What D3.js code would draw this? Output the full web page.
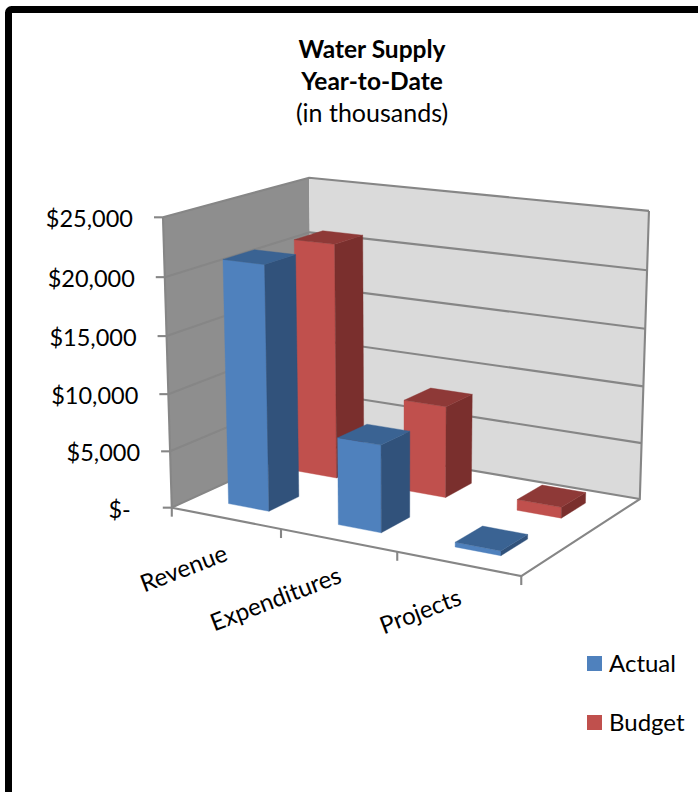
<!DOCTYPE html>
<html>
<head>
<meta charset="utf-8">
<script src="https://cdn.jsdelivr.net/npm/d3@7/dist/d3.min.js"></script>
<style>
html,body{margin:0;padding:0;background:#fff;overflow:hidden}
svg{display:block}
text{font-family:Lato,"Noto Sans",sans-serif;fill:#000}
</style>
</head>
<body>
<svg id="chart" width="698" height="792"></svg>
<script>
// Chart values
const categories = ["Revenue", "Expenditures", "Projects"];
const seriesNames = ["Actual", "Budget"];
const actualValues = [21250, 7500, 400];
const budgetValues = [21050, 8100, 950];
const valueTicks = [0, 5000, 10000, 15000, 20000, 25000];
const titleLines = ["Water Supply", "Year-to-Date", "(in thousands)"];

// Face colours for each series: front, top, side
const seriesColors = {
  Actual: {front: "#4f81bd", top: "#3a6393", side: "#31527b"},
  Budget: {front: "#c0504d", top: "#8e3937", side: "#7a2f2d"}
};

// Camera calibration: box corners (x along categories, z into depth, y up) and where they land
const cameraFit = [
  [0,0,0, 172,508], [1,0,0, 521,576], [1,1,0, 640,499], [0,1,0, 312,443],
  [0,0,1, 163,217], [0,1,1, 309,178], [1,1,1, 649,211]
];

// Least-squares solve of the 3x4 projective camera with m[11] fixed to 1
function solveCamera(pairs) {
  const rows = [], rhs = [];
  pairs.forEach(([X, Z, Y, u, v]) => {
    rows.push([X, Y, Z, 1, 0, 0, 0, 0, -u * X, -u * Y, -u * Z]); rhs.push(u);
    rows.push([0, 0, 0, 0, X, Y, Z, 1, -v * X, -v * Y, -v * Z]); rhs.push(v);
  });
  const n = 11;
  const A = d3.range(n).map(i => d3.range(n + 1).map(j =>
    j < n ? d3.sum(rows, (r) => r[i] * r[j]) : d3.sum(rows, (r, k) => r[i] * rhs[k])));
  for (let c = 0; c < n; c++) {
    let p = c;
    for (let r = c + 1; r < n; r++) if (Math.abs(A[r][c]) > Math.abs(A[p][c])) p = r;
    [A[c], A[p]] = [A[p], A[c]];
    for (let r = 0; r < n; r++) {
      if (r === c) continue;
      const f = A[r][c] / A[c][c];
      for (let k = c; k <= n; k++) A[r][k] -= f * A[c][k];
    }
  }
  return d3.range(n).map(i => A[i][n] / A[i][i]);
}
const cam = solveCamera(cameraFit);
function project(x, y, z) {
  const w = cam[8] * x + cam[9] * y + cam[10] * z + 1;
  return [(cam[0] * x + cam[1] * y + cam[2] * z + cam[3]) / w,
          (cam[4] * x + cam[5] * y + cam[6] * z + cam[7]) / w];
}

// Scales from data to unit box coordinates
const xBand = d3.scaleBand().domain(categories).range([0, 1]).paddingInner(0.625).paddingOuter(0.32);
const zBand = d3.scaleBand().domain(seriesNames).range([0, 1]).paddingInner(0.57).paddingOuter(0.31);
const yValue = d3.scaleLinear().domain([0, 25000]).range([0, 1]);
const xEdge = d3.scaleLinear().domain([0, categories.length]).range([0, 1]);

const svg = d3.select("#chart");
const polyLine = d3.line();

// Outer frame, running past the right and bottom of the page
svg.append("rect").attr("x", 8.5).attr("y", 9.5).attr("width", 760).attr("height", 860)
  .attr("rx", 3).attr("fill", "#fff").attr("stroke", "#000").attr("stroke-width", 7);

// Title
const titleSizes = [{w: 700, s: 24.5, y: 58}, {w: 700, s: 24.5, y: 90}, {w: 400, s: 25, y: 122}];
svg.append("g").selectAll("text").data(titleLines).join("text")
  .attr("x", 372).attr("y", (d, i) => titleSizes[i].y)
  .attr("text-anchor", "middle")
  .attr("font-weight", (d, i) => titleSizes[i].w)
  .attr("font-size", (d, i) => titleSizes[i].s)
  .text(d => d);

const gridColor = "#868686";
const walls = svg.append("g");

// Floor, side wall and back wall
walls.append("path").attr("fill", "#fff")
  .attr("d", polyLine([project(0,0,0), project(1,0,0), project(1,0,1), project(0,0,1)]) + "Z");
walls.append("path").attr("fill", "#8e8e8e")
  .attr("d", polyLine([project(0,0,0), project(0,1,0), project(0,1,1), project(0,0,1)]) + "Z");
walls.append("path").attr("fill", "#dadada")
  .attr("d", polyLine([project(0,0,1), project(0,1,1), project(1,1,1), project(1,0,1)]) + "Z");

// Gridlines wrapping the side and back walls, with value ticks and labels
const gridG = svg.append("g").attr("fill", "none").attr("stroke", gridColor).attr("stroke-width", 2.1);
valueTicks.forEach(v => {
  const y = yValue(v);
  gridG.append("path").attr("d", polyLine([project(0,y,0), project(0,y,1), project(1,y,1)]));
  const p = project(0, y, 0);
  gridG.append("path").attr("d", polyLine([[p[0] - 9, p[1]], p]));
});
gridG.append("path").attr("d", polyLine([project(0,0,0), project(0,1,0)]));
gridG.append("path").attr("d", polyLine([project(1,1,1), project(1,0,1), project(1,0,0), project(0,0,0)]));

// Category boundary ticks along the front of the floor
d3.range(categories.length + 1).forEach(i => {
  const p = project(xEdge(i), 0, 0);
  gridG.append("path").attr("d", polyLine([p, [p[0], p[1] + 9]]));
});

const valueFormat = d3.format("$,");
svg.append("g").selectAll("text").data(valueTicks).join("text")
  .attr("x", d => project(0, yValue(d), 0)[0] - (d === 0 ? 41 : 30))
  .attr("y", d => project(0, yValue(d), 0)[1] + 10)
  .attr("text-anchor", "end")
  .attr("font-size", 23.5)
  .text(d => d === 0 ? "$-" : valueFormat(d));

// Category labels, slanted along the floor edge
const labelAnchors = [[229, 560], [343, 582], [463, 604]];
svg.append("g").selectAll("text").data(categories).join("text")
  .attr("text-anchor", "end")
  .attr("font-size", 24)
  .attr("transform", (d, i) => `translate(${labelAnchors[i][0]},${labelAnchors[i][1]}) rotate(-21)`)
  .text(d => d);

// Columns, back row first so nearer ones paint over them
const barRows = [
  {series: "Budget", values: budgetValues},
  {series: "Actual", values: actualValues}
];
const barG = svg.append("g");
barRows.forEach(row => {
  const col = seriesColors[row.series];
  row.values.forEach((value, i) => {
    const x0 = xBand(categories[i]), x1 = x0 + xBand.bandwidth();
    const z0 = zBand(row.series), z1 = z0 + zBand.bandwidth();
    const h = yValue(value);
    const face = (pts, fill) => barG.append("path")
      .attr("d", polyLine(pts.map(p => project(...p))) + "Z")
      .attr("fill", fill).attr("stroke", fill).attr("stroke-width", 0.4);
    face([[x0,0,z0],[x1,0,z0],[x1,h,z0],[x0,h,z0]], col.front);
    face([[x1,0,z0],[x1,0,z1],[x1,h,z1],[x1,h,z0]], col.side);
    face([[x0,h,z0],[x1,h,z0],[x1,h,z1],[x0,h,z1]], col.top);
  });
});

// Legend
const legend = svg.append("g").selectAll("g").data(seriesNames).join("g")
  .attr("transform", (d, i) => `translate(587,${656 + i * 59})`);
legend.append("rect").attr("width", 15).attr("height", 15).attr("fill", d => seriesColors[d].front);
legend.append("text").attr("x", 22).attr("y", 16).attr("font-size", 24).text(d => d);
</script>
</body>
</html>
